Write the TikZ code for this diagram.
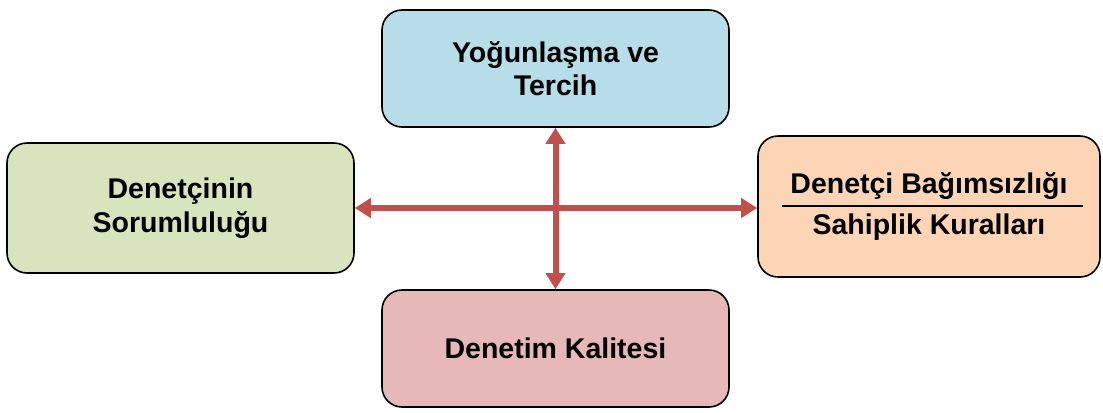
\documentclass[tikz,border=0pt]{standalone}
\usepackage{fontspec}
\setmainfont{Liberation Sans}
\usetikzlibrary{arrows.meta,calc}
\definecolor{boxblue}{HTML}{B7DDE8}
\definecolor{boxgreen}{HTML}{D7E4BD}
\definecolor{boxpeach}{HTML}{FBD5B5}
\definecolor{boxpink}{HTML}{E6B9B8}
\definecolor{arrowred}{HTML}{C0504D}
\begin{document}
\begin{tikzpicture}[x=1bp,y=-1bp,
  card/.style={draw=black,line width=1.6bp,rounded corners=20bp,
    align=center,inner sep=0pt,
    font=\bfseries\fontsize{28.5bp}{33.5bp}\selectfont},
  link/.style={draw=arrowred,line width=6bp,
    {Triangle[length=16bp,width=19bp]}-{Triangle[length=16bp,width=19bp]}}]
  \useasboundingbox (0,0) rectangle (1103,412);

  \node[card,fill=boxblue,minimum width=347bp,minimum height=117bp]
    (top) at (555.5,68.5) {Yoğunlaşma ve\\Tercih};
  \node[card,fill=boxgreen,minimum width=347bp,minimum height=130bp]
    (left) at (180.5,208) {Denetçinin\\Sorumluluğu};
  \node[card,fill=boxpeach,minimum width=342bp,minimum height=141bp]
    (right) at (929,206.5) {Denetçi Bağımsızlığı\\[7bp]Sahiplik Kuralları};
  \node[card,fill=boxpink,minimum width=347bp,minimum height=117bp]
    (bottom) at (555.5,348.5) {Denetim Kalitesi};

  % separator rule under the first line of the right card
  \coordinate (ruleL) at (782,206);
  \coordinate (ruleR) at (1083,206);
  \draw[line width=1.6bp] (ruleL) -- (ruleR);

  % connectors
  \draw[link] (left.east) -- (left.east -| right.west);
  \draw[link] (top.south) -- (bottom.north);
\end{tikzpicture}
\end{document}
